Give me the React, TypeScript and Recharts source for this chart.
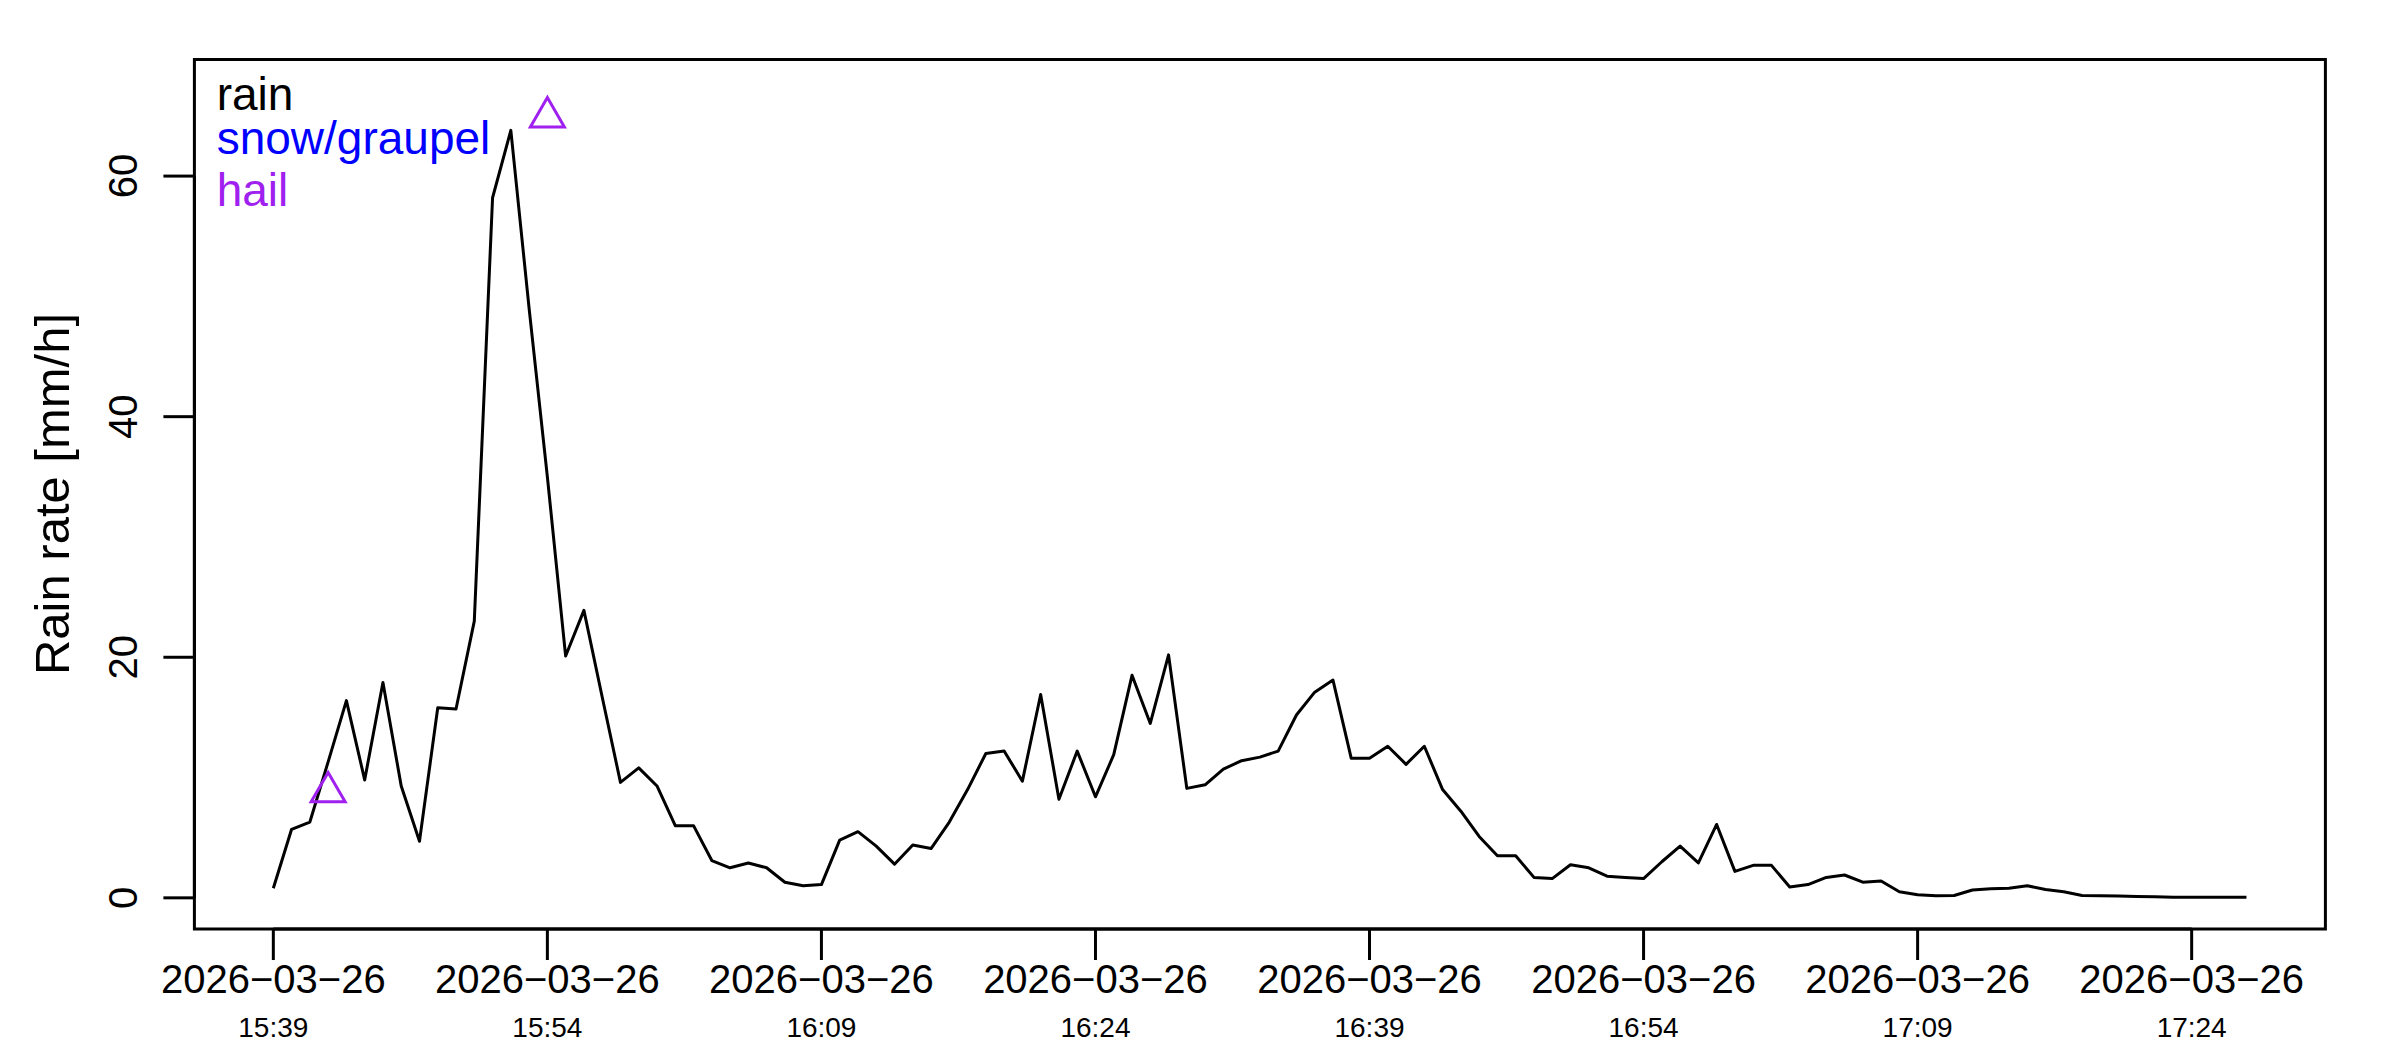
import {
  ComposedChart,
  Line,
  Scatter,
  XAxis,
  YAxis,
  ReferenceArea,
  ReferenceLine,
  Customized,
} from "recharts";

// rain rate [mm/h], one value per minute starting 15:39
const rainRate = [
  0.8, 5.7, 6.3, 11.3, 16.4, 9.8, 17.9, 9.3, 4.7, 15.8, 15.7, 23.0, 58.2, 63.8,
  49.0, 35.0, 20.1, 23.9, 16.7, 9.6, 10.8,
  // 16:00
  9.3, 6.0, 6.0, 3.1, 2.5, 2.9, 2.5, 1.3, 1.0, 1.1, 4.8, 5.5, 4.3, 2.8, 4.4,
  4.1, 6.3, 9.0, 12.0, 12.2, 9.7, 16.9, 8.2, 12.2, 8.4, 11.9, 18.5, 14.5, 20.2,
  9.1, 9.4, 10.7, 11.4, 11.7, 12.2, 15.2, 17.1, 18.1, 11.6, 11.6, 12.6, 11.1,
  12.6, 9.0, 7.2, 5.1, 3.5, 3.5, 1.7, 1.6, 2.75, 2.5, 1.8, 1.7, 1.6, 3.0, 4.3,
  2.9, 6.1, 2.2,
  // 17:00
  2.7, 2.7, 0.9, 1.1, 1.7, 1.9, 1.3, 1.4, 0.5, 0.26, 0.18, 0.2, 0.65, 0.76,
  0.79, 1.0, 0.7, 0.5, 0.2, 0.18, 0.15, 0.12, 0.09, 0.05, 0.04, 0.04, 0.04,
  0.04,
];

// hail observations (minutes after 15:39)
const hailMinutes = [3, 15];
const hailRate = [8.8, 64.9];

const xTicks = [0, 15, 30, 45, 60, 75, 90, 105];
const xTimeLabels = ["15:39", "15:54", "16:09", "16:24", "16:39", "16:54", "17:09", "17:24"];
const dateLabel = "2026\u221203\u221226";
const yTicks = [0, 20, 40, 60];

const legendItems = ["rain", "snow/graupel", "hail"];
const legendColors = ["#000000", "#0000ff", "#a020f0"];

const X_MIN = -4.32;
const X_MAX = 112.32;
const Y_MIN = -2.59;
const Y_MAX = 69.7;

const rainData = rainRate.map((v, i) => ({ t: i, rain: v }));
const hailData = hailMinutes.map((t, i) => ({ t, hail: hailRate[i] }));

const LW = 3;

function XTick({ x, y, payload }: any) {
  const i = xTicks.indexOf(payload.value);
  return (
    <g>
      <text x={x} y={y + 33} textAnchor="middle" fontSize={40} fill="#000">
        {dateLabel}
      </text>
      <text x={x} y={y + 77} textAnchor="middle" fontSize={28} fill="#000">
        {xTimeLabels[i]}
      </text>
    </g>
  );
}

function YTick({ x, y, payload }: any) {
  const px = x - 26;
  return (
    <text
      x={px}
      y={y}
      transform={`rotate(-90, ${px}, ${y})`}
      textAnchor="middle"
      fontSize={40}
      fill="#000"
    >
      {payload.value}
    </text>
  );
}

function Triangle({ cx, cy }: any) {
  if (cx == null || cy == null) return null;
  const pts = `${cx},${cy - 19.6} ${cx + 17},${cy + 9.8} ${cx - 17},${cy + 9.8}`;
  return <polygon points={pts} fill="none" stroke="#a020f0" strokeWidth={LW} />;
}

function Annotations() {
  const baselines = [110, 154, 205.5];
  return (
    <g>
      <text
        x={69}
        y={494}
        transform="rotate(-90, 69, 494)"
        textAnchor="middle"
        fontSize={49}
        fill="#000"
      >
        Rain rate [mm/h]
      </text>
      {legendItems.map((item, i) => (
        <text key={item} x={216.7} y={baselines[i]} fontSize={46} fill={legendColors[i]}>
          {item}
        </text>
      ))}
    </g>
  );
}

export default function App() {
  return (
    <div
      style={{
        position: "absolute",
        left: 0,
        top: 0,
        width: 2400,
        height: 1050,
        background: "#fff",
        fontFamily: "'Liberation Sans', Arial, sans-serif",
      }}
    >
      <ComposedChart
        width={2400}
        height={1050}
        data={rainData}
        margin={{ top: 59.4, right: 74.6, left: 44.4, bottom: 11 }}
      >
        <XAxis
          dataKey="t"
          type="number"
          domain={[X_MIN, X_MAX]}
          ticks={xTicks}
          allowDataOverflow
          height={110}
          axisLine={false}
          tickLine={{ stroke: "#000", strokeWidth: LW }}
          tickSize={31}
          tickMargin={0}
          tick={<XTick />}
          interval={0}
        />
        <YAxis
          type="number"
          domain={[Y_MIN, Y_MAX]}
          ticks={yTicks}
          allowDataOverflow
          width={150}
          axisLine={false}
          tickLine={{ stroke: "#000", strokeWidth: LW }}
          tickSize={31}
          tickMargin={0}
          tick={<YTick />}
          interval={0}
        />
        <ReferenceArea
          x1={X_MIN}
          x2={X_MAX}
          y1={Y_MIN}
          y2={Y_MAX}
          fill="none"
          fillOpacity={0}
          stroke="#000"
          strokeWidth={LW}
          ifOverflow="visible"
        />
        <ReferenceLine
          segment={[
            { x: xTicks[0], y: Y_MIN },
            { x: xTicks[xTicks.length - 1], y: Y_MIN },
          ]}
          stroke="#000"
          strokeWidth={LW}
          ifOverflow="visible"
        />
        <ReferenceLine
          segment={[
            { x: X_MIN, y: yTicks[0] },
            { x: X_MIN, y: yTicks[yTicks.length - 1] },
          ]}
          stroke="#000"
          strokeWidth={LW}
          ifOverflow="visible"
        />
        <Line
          type="linear"
          dataKey="rain"
          stroke="#000"
          strokeWidth={LW}
          strokeLinejoin="round"
          dot={false}
          activeDot={false}
          isAnimationActive={false}
        />
        <Scatter
          data={hailData}
          dataKey="hail"
          shape={<Triangle />}
          isAnimationActive={false}
        />
        <Customized component={Annotations} />
      </ComposedChart>
    </div>
  );
}
